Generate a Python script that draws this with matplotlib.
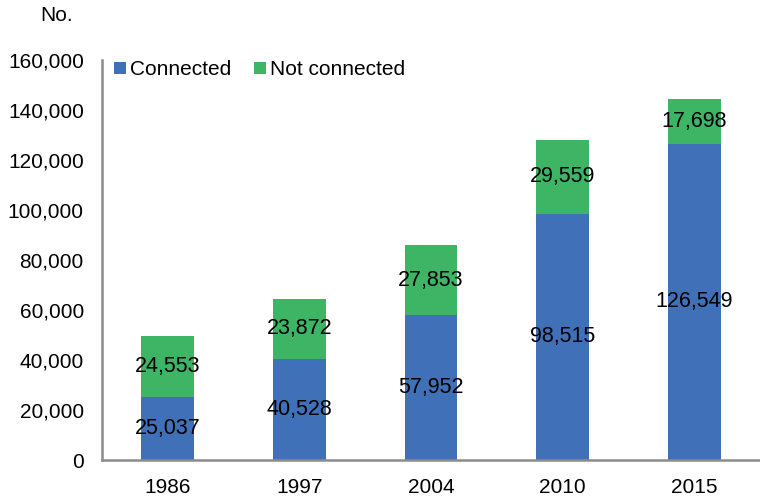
import matplotlib.pyplot as plt
from matplotlib.ticker import FuncFormatter

plt.rcParams['font.family'] = ['Liberation Sans', 'DejaVu Sans']

years = ['1986', '1997', '2004', '2010', '2015']
connected = [25037, 40528, 57952, 98515, 126549]
not_connected = [24553, 23872, 27853, 29559, 17698]

blue = '#4070B8'
green = '#3DB564'
grey = '#8C8C8C'
fs = 15

fig = plt.figure(figsize=(7.6, 4.99), dpi=100)
ax = fig.add_axes([0.134, 0.078, 0.866, 0.802])

x = range(len(years))
b1 = ax.bar(x, connected, width=0.4, color=blue, label='Connected')
b2 = ax.bar(x, not_connected, width=0.4, bottom=connected, color=green,
            label='Not connected')

# value labels centred in each segment
ax.bar_label(b1, labels=[f'{v:,}' for v in connected], label_type='center',
             fontsize=15.5)
ax.bar_label(b2, labels=[f'{v:,}' for v in not_connected], label_type='center',
             fontsize=15.5)

ax.set_xlim(-0.5, 4.5)
ax.set_ylim(0, 160000)
ax.set_yticks(range(0, 160001, 20000))
ax.yaxis.set_major_formatter(FuncFormatter(lambda v, p: f'{int(v):,}'))
ax.set_xticks(list(x))
ax.set_xticklabels(years)
ax.tick_params(axis='both', length=0, labelsize=fs)
ax.tick_params(axis='y', pad=13)
ax.tick_params(axis='x', pad=13)

for s in ['top', 'right']:
    ax.spines[s].set_visible(False)
for s in ['left', 'bottom']:
    ax.spines[s].set_color(grey)
    ax.spines[s].set_linewidth(1.8)

ax.legend(loc='upper left', bbox_to_anchor=(0.0, 1.03), ncol=2, frameon=False,
          fontsize=fs, handlelength=0.55, handleheight=0.55, handletextpad=0.2,
          columnspacing=1.1, borderaxespad=0.2)

fig.text(0.053, 0.968, 'No.', fontsize=fs, va='center', ha='left')

fig.savefig('out.png', dpi=100)
